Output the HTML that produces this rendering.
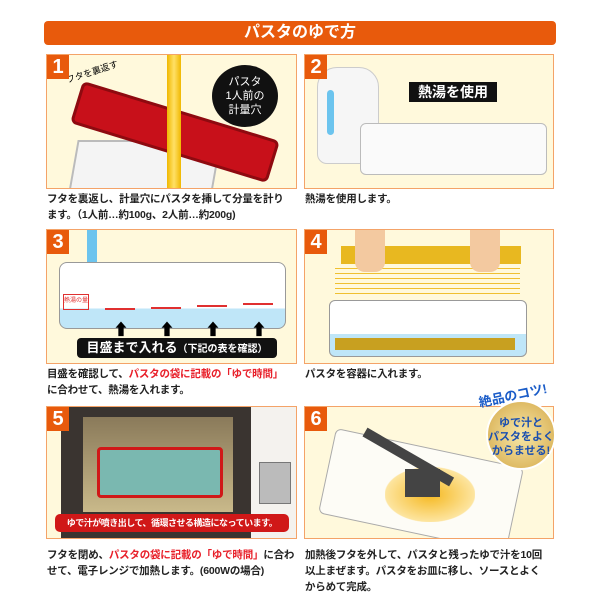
<!DOCTYPE html>
<html><head><meta charset="utf-8"><style>
body{margin:0;width:600px;height:600px;background:#fff;position:relative;overflow:hidden;font-family:"Liberation Sans","Noto Sans CJK JP",sans-serif;}
.hd{position:absolute;left:44px;top:21px;width:512px;height:24px;background:#e85a0c;border-radius:4px;color:#fff;font-weight:bold;font-size:16px;text-align:center;line-height:24px;}
.p{position:absolute;background:#fff9dc;border:1.5px solid #f4a368;overflow:hidden;box-sizing:border-box;}
.n{position:absolute;left:0;top:0;width:22px;height:24px;background:#e85a0c;color:#fff;font-weight:bold;font-size:20px;text-align:center;line-height:24px;z-index:5;}
.c{position:absolute;font-size:10.5px;line-height:16px;color:#222;font-weight:bold;white-space:nowrap;letter-spacing:-0.2px;}
.r{color:#e8202a;}
.a{position:absolute;}
</style></head><body>
<div class="hd">パスタのゆで方</div>

<div class="p" style="left:46px;top:54px;width:251px;height:135px;">
<div class="n">1</div>
<div class="a" style="left:25px;top:85px;width:140px;height:60px;background:#f4f4f4;border:2px solid #bbb;transform:skewX(-10deg);"></div>
<div class="a" style="left:25px;top:55px;width:200px;height:38px;background:#c8101a;border:3px solid #8e0a10;border-radius:6px;transform:rotate(17deg);"></div>
<div class="a" style="left:120px;top:0;width:14px;height:135px;background:linear-gradient(90deg,#f0b800,#ffe066,#f0b800);"></div>
<div class="a" style="left:165px;top:10px;width:66px;height:62px;background:#111;border-radius:50%;color:#fff;font-size:11px;text-align:center;line-height:14px;padding-top:10px;box-sizing:border-box;">パスタ<br>1人前の<br>計量穴</div>
<div class="a" style="left:18px;top:10px;font-size:9px;transform:rotate(-18deg);">フタを裏返す</div>
</div>
<div class="c" style="left:47px;top:191px;">フタを裏返し、計量穴にパスタを挿して分量を計り<br>ます。（1人前…約100g、2人前…約200g)</div>

<div class="p" style="left:304px;top:54px;width:250px;height:135px;">
<div class="n">2</div>
<div class="a" style="left:12px;top:12px;width:60px;height:95px;background:#f6f6f6;border:1px solid #ccc;border-radius:20px 20px 10px 10px;"></div>
<div class="a" style="left:22px;top:35px;width:7px;height:45px;background:#6cc4ee;border-radius:4px;"></div>
<div class="a" style="left:55px;top:68px;width:185px;height:50px;background:#fafafa;border:1px solid #bbb;border-radius:6px;"></div>
<div class="a" style="left:104px;top:27px;width:88px;height:20px;background:#111;color:#fff;font-size:14px;font-weight:bold;text-align:center;line-height:20px;">熱湯を使用</div>
</div>
<div class="c" style="left:305px;top:191px;">熱湯を使用します。</div>

<div class="p" style="left:46px;top:229px;width:251px;height:135px;">
<div class="n">3</div>
<div class="a" style="left:40px;top:0;width:10px;height:70px;background:#6cc4ee;"></div>
<div class="a" style="left:12px;top:32px;width:225px;height:65px;background:linear-gradient(#fff 70%,#bfe6f8 70%);border:1px solid #999;border-radius:8px;"></div>
<div class="a" style="left:16px;top:64px;width:24px;height:14px;border:1px solid #e03030;font-size:6px;color:#e03030;">熱湯の量</div>
<div class="a" style="left:58px;top:78px;width:30px;border-top:2px solid #e03030;"></div>
<div class="a" style="left:104px;top:77px;width:30px;border-top:2px solid #e03030;"></div>
<div class="a" style="left:150px;top:75px;width:30px;border-top:2px solid #e03030;"></div>
<div class="a" style="left:196px;top:73px;width:30px;border-top:2px solid #e03030;"></div>
<div class="a" style="left:66px;top:86px;font-size:16px;">⬆</div>
<div class="a" style="left:112px;top:86px;font-size:16px;">⬆</div>
<div class="a" style="left:158px;top:86px;font-size:16px;">⬆</div>
<div class="a" style="left:204px;top:86px;font-size:16px;">⬆</div>
<div class="a" style="left:30px;top:108px;width:200px;height:20px;background:#111;border-radius:4px;color:#fff;font-weight:bold;font-size:13px;line-height:20px;text-align:center;">目盛まで入れる<span style="font-size:10px">（下記の表を確認）</span></div>
</div>
<div class="c" style="left:47px;top:366px;">目盛を確認して、<span class="r">パスタの袋に記載の「ゆで時間」</span><br>に合わせて、熱湯を入れます。</div>

<div class="p" style="left:304px;top:229px;width:250px;height:135px;">
<div class="n">4</div>
<div class="a" style="left:36px;top:16px;width:180px;height:18px;background:#e8b820;"></div>
<div class="a" style="left:30px;top:34px;width:185px;height:30px;background:repeating-linear-gradient(#fff9dc 0 4px,#f0c030 4px 5px);"></div>
<div class="a" style="left:50px;top:0;width:30px;height:42px;background:#f3c9a0;border-radius:0 0 10px 10px;"></div>
<div class="a" style="left:165px;top:0;width:30px;height:42px;background:#f3c9a0;border-radius:0 0 10px 10px;"></div>
<div class="a" style="left:24px;top:70px;width:196px;height:55px;background:linear-gradient(#fff 60%,#bfe6f8 60%);border:1px solid #999;border-radius:6px;"></div>
<div class="a" style="left:30px;top:108px;width:180px;height:12px;background:#c8a020;"></div>
</div>
<div class="c" style="left:305px;top:366px;">パスタを容器に入れます。</div>

<div class="p" style="left:46px;top:406px;width:251px;height:133px;">
<div class="n">5</div>
<div class="a" style="left:14px;top:0;width:190px;height:133px;background:#3a3430;"></div>
<div class="a" style="left:36px;top:10px;width:150px;height:95px;background:linear-gradient(#8a7a5a,#c9b98a);"></div>
<div class="a" style="left:50px;top:40px;width:120px;height:45px;background:#7ab8b0;border:3px solid #d01818;border-radius:4px;"></div>
<div class="a" style="left:204px;top:0;width:47px;height:133px;background:#f4f2ee;"></div>
<div class="a" style="left:212px;top:55px;width:30px;height:40px;background:#bbb;border:1px solid #777;"></div>
<div class="a" style="left:8px;top:107px;width:234px;height:18px;background:#d01818;border-radius:5px;color:#fff;font-size:9px;font-weight:bold;text-align:center;line-height:18px;white-space:nowrap;letter-spacing:-0.5px;">ゆで汁が噴き出して、循環させる構造になっています。</div>
</div>
<div class="c" style="left:47px;top:547px;">フタを閉め、<span class="r">パスタの袋に記載の「ゆで時間」</span>に合わ<br>せて、電子レンジで加熱します。(600Wの場合)</div>

<div class="p" style="left:304px;top:406px;width:250px;height:133px;">
<div class="n">6</div>
<div class="a" style="left:20px;top:40px;width:190px;height:85px;background:#fdfcf6;border:1px solid #aaa;border-radius:6px;transform:rotate(12deg);"></div>
<div class="a" style="left:80px;top:60px;width:90px;height:55px;background:radial-gradient(#f5b820,#fde5a0 70%,transparent 72%);"></div>
<div class="a" style="left:60px;top:20px;width:100px;height:10px;background:#444;transform:rotate(30deg);transform-origin:left;"></div>
<div class="a" style="left:100px;top:62px;width:35px;height:28px;background:#444;"></div>
</div>
<div class="a" style="left:486px;top:400px;width:70px;height:70px;border-radius:50%;background:radial-gradient(#f7e7a8,#d4a848);border:2px solid #fff;color:#1a4fb0;font-size:11px;font-weight:bold;text-align:center;line-height:14px;padding-top:14px;box-sizing:border-box;">ゆで汁と<br>パスタをよく<br>からませる!</div>
<div class="a" style="left:478px;top:385px;color:#1a5cc8;font-weight:bold;font-size:13px;transform:rotate(-12deg);">絶品のコツ!</div>
<div class="c" style="left:305px;top:547px;">加熱後フタを外して、パスタと残ったゆで汁を10回<br>以上まぜます。パスタをお皿に移し、ソースとよく<br>からめて完成。</div>
</body></html>
